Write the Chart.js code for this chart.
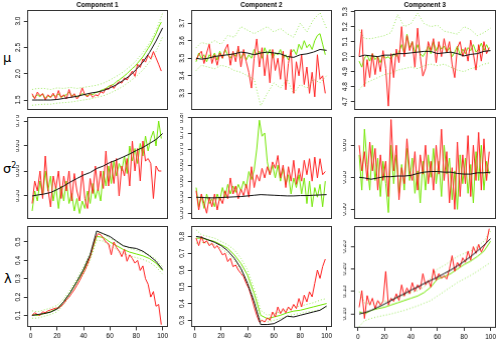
<!DOCTYPE html>
<html>
<head>
<meta charset="utf-8">
<script src="https://cdn.jsdelivr.net/npm/chart.js@4.4.1/dist/chart.umd.min.js"></script>
<style>
  html, body { margin: 0; padding: 0; background: #fff; }
  #wrap { position: relative; width: 496px; height: 340px; overflow: hidden; }
  #wrap canvas { position: absolute; }
  .ylab { position: absolute; font-family: 'DejaVu Sans', sans-serif; font-size: 13px; color: #000; line-height: 1; }
</style>
</head>
<body>
<div id="wrap">
  <span class="ylab" style="left:3px;top:51px">μ</span>
  <span class="ylab" style="left:3px;top:162px">σ<sup style="font-size:8px">2</sup></span>
  <span class="ylab" style="left:4px;top:272px">λ</span>
</div>
<script>
// x positions (time index) for the noisy and the smooth series
const t50 = [1, 3, 5, 7, 9, 11, 13, 15, 17, 19, 21, 23, 25, 27, 29, 31, 33, 35, 37, 39,
  41, 43, 45, 47, 49, 51, 53, 55, 57, 59, 61, 63, 65, 67, 69, 71, 73, 75, 77, 79,
  81, 83, 85, 87, 89, 91, 93, 95, 97, 99];
const t21 = [1, 5, 10, 15, 20, 25, 30, 35, 40, 45, 50, 55, 60, 65, 70, 75, 80, 85, 90, 95, 100];
const xTicks = [0, 20, 40, 60, 80, 100];
const xLim = [-2.96, 103.96];

// ---- mu, component 1
const mu1Lim = [1.31, 3.21];
const mu1Ticks = [1.5, 2.0, 2.5, 3.0];
const mu1True = [1.50, 1.50, 1.50, 1.50, 1.51, 1.53, 1.55, 1.57, 1.60, 1.63, 1.65, 1.68, 1.73, 1.79, 1.87, 1.96, 2.08, 2.22, 2.40, 2.62, 2.87];
const mu1Upper = [1.70, 1.72, 1.72, 1.70, 1.73, 1.72, 1.74, 1.72, 1.74, 1.76, 1.78, 1.82, 1.88, 1.95, 2.03, 2.13, 2.25, 2.40, 2.58, 2.82, 3.15];
const mu1Lower = [1.40, 1.41, 1.42, 1.42, 1.44, 1.45, 1.46, 1.48, 1.50, 1.52, 1.55, 1.58, 1.63, 1.69, 1.76, 1.85, 1.95, 2.07, 2.22, 2.42, 2.70];
const mu1Est = [1.58, 1.55, 1.60, 1.56, 1.62, 1.53, 1.58, 1.55, 1.60, 1.57,
  1.62, 1.55, 1.58, 1.60, 1.65, 1.58, 1.60, 1.56, 1.58, 1.62,
  1.60, 1.58, 1.62, 1.60, 1.64, 1.65, 1.68, 1.70, 1.72, 1.76,
  1.78, 1.80, 1.85, 1.88, 1.92, 1.96, 2.00, 2.05, 2.10, 2.14,
  2.20, 2.26, 2.32, 2.40, 2.48, 2.56, 2.66, 2.76, 2.88, 2.98];
const mu1Alt = [1.62, 1.52, 1.65, 1.58, 1.62, 1.50, 1.60, 1.55, 1.63, 1.52,
  1.68, 1.55, 1.60, 1.52, 1.70, 1.55, 1.62, 1.52, 1.58, 1.73,
  1.60, 1.56, 1.62, 1.55, 1.60, 1.58, 1.66, 1.63, 1.72, 1.70,
  1.78, 1.72, 1.80, 1.85, 1.82, 1.92, 1.88, 1.97, 2.05, 1.95,
  2.18, 2.12, 2.28, 2.22, 2.35, 2.28, 2.42, 2.30, 2.18, 2.05];

// ---- mu, component 2
const mu2Lim = [3.205, 3.775];
const mu2Ticks = [3.3, 3.4, 3.5, 3.6, 3.7];
const mu2True = [3.500, 3.495, 3.500, 3.510, 3.515, 3.520, 3.525, 3.535, 3.530, 3.520, 3.530, 3.535, 3.530, 3.525, 3.510, 3.505, 3.520, 3.525, 3.535, 3.550, 3.545];
const mu2Upper = [3.56, 3.59, 3.58, 3.60, 3.58, 3.63, 3.62, 3.68, 3.66, 3.64, 3.66, 3.68, 3.65, 3.67, 3.64, 3.62, 3.70, 3.65, 3.72, 3.76, 3.67];
const mu2Lower = [3.43, 3.46, 3.45, 3.44, 3.46, 3.45, 3.43, 3.42, 3.40, 3.38, 3.23, 3.30, 3.36, 3.33, 3.38, 3.30, 3.35, 3.33, 3.38, 3.36, 3.40];
const mu2Est = [3.48, 3.53, 3.50, 3.52, 3.48, 3.52, 3.50, 3.53, 3.49, 3.54,
  3.50, 3.55, 3.52, 3.50, 3.53, 3.51, 3.55, 3.50, 3.53, 3.49,
  3.52, 3.50, 3.55, 3.52, 3.54, 3.50, 3.56, 3.52, 3.55, 3.50,
  3.53, 3.52, 3.55, 3.50, 3.52, 3.49, 3.53, 3.55, 3.52, 3.58,
  3.55, 3.60, 3.56, 3.58, 3.55, 3.60, 3.63, 3.64, 3.58, 3.52];
const mu2Alt = [3.49, 3.52, 3.54, 3.47, 3.53, 3.58, 3.47, 3.52, 3.46, 3.53,
  3.50, 3.55, 3.58, 3.46, 3.54, 3.48, 3.57, 3.45, 3.55, 3.48,
  3.42, 3.33, 3.50, 3.61, 3.45, 3.56, 3.40, 3.52, 3.36, 3.55,
  3.43, 3.50, 3.38, 3.54, 3.32, 3.47, 3.55, 3.30, 3.48, 3.40,
  3.52, 3.35, 3.45, 3.30, 3.42, 3.28, 3.52, 3.38, 3.40, 3.30];

// ---- mu, component 3
const mu3Lim = [4.644, 5.311];
const mu3Ticks = [4.7, 4.8, 4.9, 5.0, 5.1, 5.2, 5.3];
const mu3True = [5.000, 5.010, 5.005, 5.000, 5.010, 5.010, 5.020, 5.020, 5.025, 5.030, 5.035, 5.035, 5.020, 5.025, 5.030, 5.020, 5.005, 5.015, 5.020, 5.035, 5.040];
const mu3Upper = [5.18, 5.12, 5.12, 5.13, 5.14, 5.16, 5.28, 5.20, 5.22, 5.29, 5.22, 5.20, 5.21, 5.17, 5.16, 5.15, 5.20, 5.18, 5.14, 5.16, 5.19];
const mu3Lower = [4.78, 4.82, 4.84, 4.86, 4.88, 4.89, 4.91, 4.92, 4.93, 4.92, 4.94, 4.95, 4.94, 4.95, 4.93, 4.91, 4.90, 4.92, 4.93, 4.95, 4.96];
const mu3Est = [4.97, 4.93, 4.99, 5.01, 4.97, 5.02, 4.98, 5.00, 4.96, 5.01,
  4.99, 5.00, 4.98, 5.02, 5.00, 5.03, 5.08, 5.02, 5.15, 5.06,
  5.10, 5.03, 5.08, 5.02, 5.00, 5.03, 5.07, 5.02, 5.10, 5.04,
  5.08, 5.05, 5.07, 5.03, 5.06, 5.00, 5.03, 5.07, 5.01, 5.05,
  5.02, 5.06, 5.04, 5.08, 5.03, 5.05, 5.09, 5.04, 5.08, 5.04];
const mu3Alt = [5.00, 5.18, 4.80, 4.98, 4.86, 5.02, 4.88, 5.00, 4.90, 5.04,
  4.92, 4.67, 5.02, 4.86, 5.05, 4.96, 5.20, 5.00, 5.14, 5.04,
  5.10, 4.93, 5.19, 5.00, 4.87, 4.92, 5.10, 5.04, 5.12, 4.96,
  5.10, 5.00, 5.12, 5.03, 5.10, 4.95, 4.86, 5.06, 5.10, 5.00,
  5.06, 4.97, 5.11, 5.02, 4.91, 5.08, 4.97, 5.10, 5.02, 5.06];

// ---- sigma^2, component 1
const sig1Lim = [0.504, 0.708];
const sig1Ticks = [0.55, 0.60, 0.65, 0.70];
const sig1True = [0.550, 0.552, 0.554, 0.557, 0.563, 0.570, 0.578, 0.585, 0.592, 0.597, 0.605, 0.610, 0.617, 0.622, 0.628, 0.634, 0.641, 0.647, 0.655, 0.663, 0.675];
const sig1Est = [0.520, 0.560, 0.540, 0.580, 0.550, 0.600, 0.560, 0.590, 0.540, 0.570,
  0.525, 0.570, 0.540, 0.580, 0.535, 0.555, 0.520, 0.545, 0.515, 0.540,
  0.525, 0.560, 0.535, 0.575, 0.545, 0.565, 0.540, 0.600, 0.570, 0.610,
  0.575, 0.620, 0.590, 0.615, 0.600, 0.630, 0.595, 0.650, 0.620, 0.645,
  0.615, 0.655, 0.630, 0.670, 0.640, 0.665, 0.680, 0.650, 0.700, 0.665];
const sig1Alt = [0.535, 0.580, 0.560, 0.600, 0.545, 0.630, 0.565, 0.528, 0.590, 0.565,
  0.600, 0.545, 0.590, 0.560, 0.600, 0.540, 0.595, 0.560, 0.540, 0.600,
  0.545, 0.525, 0.585, 0.555, 0.610, 0.560, 0.600, 0.565, 0.640, 0.570,
  0.620, 0.575, 0.625, 0.550, 0.610, 0.590, 0.625, 0.570, 0.660, 0.600,
  0.645, 0.580, 0.660, 0.620, 0.625, 0.615, 0.545, 0.610, 0.600, 0.600];

// ---- sigma^2, component 2
const sig2Lim = [0.482, 0.800];
const sig2Ticks = [0.50, 0.55, 0.60, 0.65, 0.70, 0.75, 0.80];
const sig2True = [0.550, 0.549, 0.548, 0.548, 0.549, 0.550, 0.551, 0.552, 0.554, 0.556, 0.558, 0.557, 0.556, 0.555, 0.554, 0.554, 0.555, 0.555, 0.556, 0.557, 0.558];
const sig2Est = [0.580, 0.520, 0.555, 0.515, 0.560, 0.530, 0.545, 0.520, 0.560, 0.540,
  0.580, 0.550, 0.590, 0.560, 0.585, 0.565, 0.590, 0.570, 0.600, 0.580,
  0.630, 0.605, 0.635, 0.700, 0.790, 0.740, 0.750, 0.660, 0.620, 0.650,
  0.610, 0.650, 0.600, 0.640, 0.590, 0.620, 0.560, 0.610, 0.580, 0.620,
  0.560, 0.610, 0.530, 0.600, 0.520, 0.580, 0.550, 0.590, 0.520, 0.600];
const sig2Alt = [0.570, 0.510, 0.560, 0.530, 0.500, 0.550, 0.520, 0.560, 0.510, 0.550,
  0.530, 0.570, 0.545, 0.610, 0.560, 0.585, 0.545, 0.575, 0.555, 0.590,
  0.550, 0.645, 0.580, 0.620, 0.600, 0.640, 0.610, 0.645, 0.620, 0.660,
  0.640, 0.680, 0.610, 0.650, 0.580, 0.645, 0.600, 0.665, 0.590, 0.640,
  0.600, 0.665, 0.620, 0.670, 0.600, 0.675, 0.610, 0.670, 0.620, 0.630];

// ---- sigma^2, component 3
const sig3Lim = [0.485, 0.644];
const sig3Ticks = [0.50, 0.55, 0.60];
const sig3True = [0.550, 0.549, 0.547, 0.549, 0.551, 0.551, 0.552, 0.552, 0.553, 0.556, 0.558, 0.559, 0.559, 0.558, 0.558, 0.556, 0.555, 0.555, 0.557, 0.557, 0.558];
const sig3Est = [0.585, 0.530, 0.625, 0.570, 0.530, 0.600, 0.545, 0.580, 0.520, 0.575,
  0.540, 0.495, 0.600, 0.540, 0.585, 0.525, 0.570, 0.530, 0.595, 0.545,
  0.580, 0.525, 0.560, 0.510, 0.575, 0.530, 0.585, 0.550, 0.595, 0.540,
  0.575, 0.520, 0.600, 0.555, 0.580, 0.515, 0.560, 0.500, 0.585, 0.540,
  0.580, 0.525, 0.570, 0.510, 0.590, 0.545, 0.600, 0.530, 0.575, 0.555];
const sig3Alt = [0.600, 0.560, 0.590, 0.545, 0.605, 0.560, 0.595, 0.530, 0.585, 0.545,
  0.575, 0.520, 0.640, 0.560, 0.600, 0.515, 0.565, 0.540, 0.610, 0.560,
  0.545, 0.590, 0.530, 0.585, 0.555, 0.600, 0.540, 0.575, 0.530, 0.600,
  0.555, 0.625, 0.545, 0.590, 0.510, 0.565, 0.500, 0.605, 0.520, 0.585,
  0.540, 0.615, 0.520, 0.600, 0.545, 0.620, 0.530, 0.610, 0.545, 0.590];

// ---- lambda, component 1
const lam1Lim = [0.035, 0.585];
const lam1Ticks = [0.1, 0.2, 0.3, 0.4, 0.5];
const lam1True = [0.100, 0.105, 0.110, 0.118, 0.135, 0.175, 0.225, 0.285, 0.350, 0.430, 0.560, 0.545, 0.530, 0.505, 0.480, 0.470, 0.465, 0.450, 0.425, 0.395, 0.350];
const lam1Est = [0.105, 0.100, 0.110, 0.120, 0.138, 0.175, 0.225, 0.283, 0.345, 0.420, 0.530, 0.525, 0.500, 0.480, 0.460, 0.445, 0.435, 0.425, 0.410, 0.385, 0.345];
const lam1Upper = [0.125, 0.120, 0.130, 0.140, 0.155, 0.190, 0.240, 0.300, 0.365, 0.440, 0.550, 0.545, 0.520, 0.500, 0.480, 0.465, 0.455, 0.445, 0.430, 0.405, 0.365];
const lam1Lower = [0.085, 0.085, 0.095, 0.105, 0.120, 0.160, 0.210, 0.265, 0.325, 0.400, 0.510, 0.505, 0.480, 0.460, 0.440, 0.425, 0.415, 0.405, 0.390, 0.365, 0.325];
const lam1Alt = [0.100, 0.115, 0.105, 0.100, 0.120, 0.115, 0.125, 0.130, 0.135, 0.140,
  0.140, 0.150, 0.165, 0.185, 0.200, 0.220, 0.240, 0.265, 0.290, 0.320,
  0.345, 0.380, 0.420, 0.470, 0.520, 0.545, 0.540, 0.520, 0.500, 0.490,
  0.430, 0.500, 0.470, 0.450, 0.420, 0.460, 0.395, 0.430, 0.410, 0.385,
  0.400, 0.345, 0.370, 0.300, 0.270, 0.200, 0.230, 0.150, 0.160, 0.050];

// ---- lambda, component 2
const lam2Lim = [0.258, 0.860];
const lam2Ticks = [0.3, 0.4, 0.5, 0.6, 0.7, 0.8];
const lam2True = [0.800, 0.795, 0.780, 0.765, 0.745, 0.715, 0.670, 0.610, 0.520, 0.410, 0.275, 0.275, 0.280, 0.300, 0.325, 0.320, 0.330, 0.340, 0.350, 0.360, 0.385];
const lam2Est = [0.790, 0.790, 0.780, 0.770, 0.750, 0.730, 0.690, 0.640, 0.570, 0.460, 0.330, 0.310, 0.320, 0.330, 0.345, 0.355, 0.360, 0.370, 0.380, 0.390, 0.400];
const lam2Upper = [0.840, 0.810, 0.800, 0.790, 0.770, 0.750, 0.720, 0.670, 0.600, 0.490, 0.360, 0.330, 0.340, 0.350, 0.365, 0.380, 0.385, 0.395, 0.405, 0.420, 0.430];
const lam2Lower = [0.760, 0.765, 0.760, 0.750, 0.730, 0.700, 0.660, 0.600, 0.530, 0.420, 0.300, 0.290, 0.300, 0.310, 0.325, 0.335, 0.340, 0.350, 0.355, 0.365, 0.375];
const lam2Alt = [0.790, 0.745, 0.800, 0.760, 0.775, 0.745, 0.760, 0.730, 0.745, 0.720,
  0.690, 0.700, 0.650, 0.670, 0.620, 0.630, 0.600, 0.580, 0.560, 0.520,
  0.490, 0.440, 0.380, 0.330, 0.290, 0.300, 0.290, 0.315, 0.300, 0.350,
  0.320, 0.380, 0.340, 0.370, 0.345, 0.380, 0.360, 0.395, 0.370, 0.430,
  0.380, 0.450, 0.410, 0.470, 0.440, 0.520, 0.600, 0.550, 0.620, 0.665];

// ---- lambda, component 3
const lam3Lim = [0.069, 0.296];
const lam3Ticks = [0.10, 0.15, 0.20, 0.25];
const lam3True = [0.100, 0.103, 0.108, 0.115, 0.122, 0.130, 0.138, 0.145, 0.153, 0.160, 0.168, 0.175, 0.182, 0.190, 0.198, 0.207, 0.217, 0.228, 0.240, 0.253, 0.268];
const lam3Est = [0.105, 0.100, 0.108, 0.112, 0.115, 0.120, 0.125, 0.130, 0.135, 0.140, 0.148, 0.160, 0.178, 0.183, 0.190, 0.200, 0.210, 0.218, 0.228, 0.240, 0.262];
const lam3Upper = [0.150, 0.125, 0.122, 0.125, 0.128, 0.132, 0.136, 0.142, 0.148, 0.152, 0.160, 0.180, 0.200, 0.208, 0.218, 0.228, 0.235, 0.240, 0.250, 0.262, 0.285];
const lam3Lower = [0.072, 0.085, 0.090, 0.094, 0.097, 0.100, 0.104, 0.108, 0.113, 0.118, 0.124, 0.130, 0.140, 0.150, 0.160, 0.170, 0.178, 0.186, 0.195, 0.205, 0.215];
const lam3Alt = [0.115, 0.152, 0.090, 0.141, 0.120, 0.135, 0.112, 0.130, 0.120, 0.128,
  0.195, 0.120, 0.135, 0.128, 0.145, 0.130, 0.165, 0.140, 0.158, 0.145,
  0.170, 0.150, 0.165, 0.155, 0.190, 0.165, 0.175, 0.160, 0.200, 0.175,
  0.190, 0.180, 0.185, 0.178, 0.200, 0.230, 0.195, 0.215, 0.205, 0.225,
  0.215, 0.240, 0.220, 0.250, 0.235, 0.255, 0.238, 0.250, 0.260, 0.290];

// ---- styling
const FONT = "'Liberation Sans', Arial, sans-serif";
const TICK_SIZE = 6.5;
const TRUE_COLOR = '#111';
const EST_COLOR = '#72e600';
const BAND_COLOR = '#9ae85c';
const ALT_COLOR = '#ff2020';
const COL_L = [27, 191, 354], COL_R = [167, 331, 495];
const ROW_T = [10, 117, 226], ROW_B = [110, 219, 327];

function line(xs, ys, color, dashed) {
  return {
    data: xs.map((x, i) => ({ x: x, y: ys[i] })),
    borderColor: color,
    borderWidth: 1,
    borderDash: dashed ? [1, 2] : [],
    pointRadius: 0,
    fill: false,
    tension: 0
  };
}

// first dataset is drawn on top
const panels = [
  { row: 0, col: 0, title: 'Component 1', lim: mu1Lim, ticks: mu1Ticks, dec: 1,
    sets: [line(t21, mu1True, TRUE_COLOR), line(t50, mu1Alt, ALT_COLOR), line(t50, mu1Est, EST_COLOR),
           line(t21, mu1Upper, BAND_COLOR, true), line(t21, mu1Lower, BAND_COLOR, true)] },
  { row: 0, col: 1, title: 'Component 2', lim: mu2Lim, ticks: mu2Ticks, dec: 1,
    sets: [line(t21, mu2True, TRUE_COLOR), line(t50, mu2Alt, ALT_COLOR), line(t50, mu2Est, EST_COLOR),
           line(t21, mu2Upper, BAND_COLOR, true), line(t21, mu2Lower, BAND_COLOR, true)] },
  { row: 0, col: 2, title: 'Component 3', lim: mu3Lim, ticks: mu3Ticks, dec: 1,
    sets: [line(t21, mu3True, TRUE_COLOR), line(t50, mu3Alt, ALT_COLOR), line(t50, mu3Est, EST_COLOR),
           line(t21, mu3Upper, BAND_COLOR, true), line(t21, mu3Lower, BAND_COLOR, true)] },
  { row: 1, col: 0, lim: sig1Lim, ticks: sig1Ticks, dec: 2,
    sets: [line(t21, sig1True, TRUE_COLOR), line(t50, sig1Alt, ALT_COLOR), line(t50, sig1Est, EST_COLOR)] },
  { row: 1, col: 1, lim: sig2Lim, ticks: sig2Ticks, dec: 2,
    sets: [line(t21, sig2True, TRUE_COLOR), line(t50, sig2Alt, ALT_COLOR), line(t50, sig2Est, EST_COLOR)] },
  { row: 1, col: 2, lim: sig3Lim, ticks: sig3Ticks, dec: 2,
    sets: [line(t21, sig3True, TRUE_COLOR), line(t50, sig3Alt, ALT_COLOR), line(t50, sig3Est, EST_COLOR)] },
  { row: 2, col: 0, lim: lam1Lim, ticks: lam1Ticks, dec: 1, xAxis: true,
    sets: [line(t21, lam1True, TRUE_COLOR), line(t50, lam1Alt, ALT_COLOR), line(t21, lam1Est, EST_COLOR),
           line(t21, lam1Upper, BAND_COLOR, true), line(t21, lam1Lower, BAND_COLOR, true)] },
  { row: 2, col: 1, lim: lam2Lim, ticks: lam2Ticks, dec: 1, xAxis: true,
    sets: [line(t21, lam2True, TRUE_COLOR), line(t50, lam2Alt, ALT_COLOR), line(t21, lam2Est, EST_COLOR),
           line(t21, lam2Upper, BAND_COLOR, true), line(t21, lam2Lower, BAND_COLOR, true)] },
  { row: 2, col: 2, lim: lam3Lim, ticks: lam3Ticks, dec: 2, xAxis: true,
    sets: [line(t21, lam3True, TRUE_COLOR), line(t50, lam3Alt, ALT_COLOR), line(t21, lam3Est, EST_COLOR),
           line(t21, lam3Upper, BAND_COLOR, true), line(t21, lam3Lower, BAND_COLOR, true)] }
];

// box round the plot region + column title
const framePlugin = {
  id: 'frame',
  afterDraw(chart, args, opts) {
    const { ctx, chartArea: a } = chart;
    ctx.save();
    ctx.strokeStyle = '#333';
    ctx.lineWidth = 1;
    ctx.strokeRect(Math.round(a.left) + 0.5, Math.round(a.top) + 0.5,
      Math.round(a.right - a.left) - 1, Math.round(a.bottom - a.top) - 1);
    if (opts.title) {
      ctx.fillStyle = '#000';
      ctx.font = 'bold 6.5px ' + FONT;
      ctx.textAlign = 'center';
      ctx.textBaseline = 'alphabetic';
      ctx.fillText(opts.title, (a.left + a.right) / 2, a.top - 3);
    }
    ctx.restore();
  }
};

const wrap = document.getElementById('wrap');
const LABEL_GAP = 9;   // distance from box to centre of y tick labels
const TICK_LEN = 3;

panels.forEach(p => {
  const bw = COL_R[p.col] - COL_L[p.col];
  const bh = ROW_B[p.row] - ROW_T[p.row];
  const cv = document.createElement('canvas');
  cv.width = bw + 40;
  cv.height = bh + 40;
  wrap.appendChild(cv);

  const mctx = cv.getContext('2d');
  mctx.font = TICK_SIZE + 'px ' + FONT;
  const widest = Math.max(...p.ticks.map(v => mctx.measureText(v.toFixed(p.dec)).width));

  const chart = new Chart(cv, {
    type: 'line',
    data: { datasets: p.sets },
    plugins: [framePlugin],
    options: {
      responsive: false,
      maintainAspectRatio: false,
      animation: false,
      events: [],
      layout: { padding: { left: 8, right: 4, top: p.row === 0 ? 12 : 4, bottom: 4 } },
      plugins: {
        legend: { display: false },
        tooltip: { enabled: false },
        frame: { title: p.title || '' }
      },
      scales: {
        x: {
          type: 'linear',
          min: xLim[0], max: xLim[1],
          display: !!p.xAxis,
          afterBuildTicks: s => { s.ticks = xTicks.map(v => ({ value: v })); },
          grid: { drawOnChartArea: false, drawTicks: true, tickLength: TICK_LEN, color: '#333' },
          border: { display: false },
          ticks: { autoSkip: false, minRotation: 0, maxRotation: 0, padding: 2,
                   color: '#000', font: { family: FONT, size: TICK_SIZE } }
        },
        y: {
          type: 'linear',
          min: p.lim[0], max: p.lim[1],
          afterBuildTicks: s => { s.ticks = p.ticks.map(v => ({ value: v })); },
          grid: { drawOnChartArea: false, drawTicks: true, tickLength: TICK_LEN, color: '#333' },
          border: { display: false },
          ticks: {
            autoSkip: false, minRotation: 90, maxRotation: 90, crossAlign: 'center',
            padding: Math.max(0, LABEL_GAP - TICK_LEN - widest / 2),
            color: '#000', font: { family: FONT, size: TICK_SIZE },
            callback: v => Number(v).toFixed(p.dec)
          }
        }
      }
    }
  });

  // size the canvas so the plot region matches the box, then place it
  const a = chart.chartArea;
  const dw = chart.width - (a.right - a.left);
  const dh = chart.height - (a.bottom - a.top);
  chart.resize(bw + dw, bh + dh);
  const b = chart.chartArea;
  cv.style.left = (COL_L[p.col] - b.left) + 'px';
  cv.style.top = (ROW_T[p.row] - b.top) + 'px';
});
</script>
</body>
</html>
